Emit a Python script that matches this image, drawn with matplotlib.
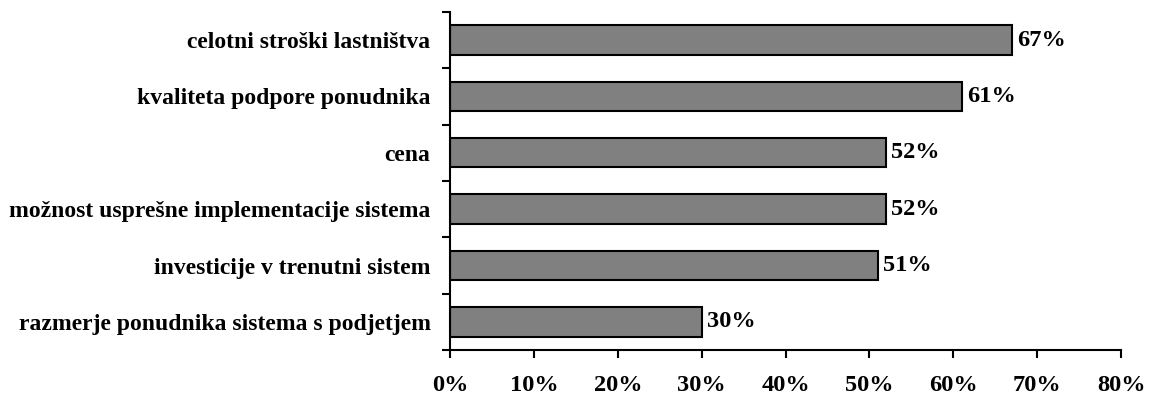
import matplotlib.pyplot as plt
from matplotlib.ticker import FixedLocator, NullFormatter

# data (bottom to top)
categories = [
    "razmerje ponudnika sistema s podjetjem",
    "investicije v trenutni sistem",
    "možnost usprešne implementacije sistema",
    "cena",
    "kvaliteta podpore ponudnika",
    "celotni stroški lastništva",
]
values = [30, 51, 52, 52, 61, 67]
xticks = [0, 10, 20, 30, 40, 50, 60, 70, 80]

plt.rcParams['font.family'] = ['Liberation Serif', 'DejaVu Serif']
plt.rcParams['font.weight'] = 'bold'
plt.rcParams['font.size'] = 17

fig = plt.figure(figsize=(11.51, 3.96), dpi=100)
ax = fig.add_axes([0.391, 0.116, 0.583, 0.854])

y = list(range(len(categories)))
bars = ax.barh(y, values, height=0.52, color='#808080', edgecolor='black', linewidth=1.5)

for b, v in zip(bars, values):
    ax.text(b.get_width() + 0.6, b.get_y() + b.get_height() / 2, f"{v}%",
            va='center', ha='left', fontweight='bold', fontsize=17.6)

ax.set_xlim(0, 80)
ax.set_ylim(-0.5, len(categories) - 0.5)
ax.set_xticks(xticks)
ax.set_xticklabels([f"{t}%" for t in xticks], fontweight='bold', fontsize=17.6)

# category labels centered on bars, ticks on boundaries
ax.set_yticks(y)
ax.set_yticklabels(categories, fontweight='bold')
ax.tick_params(axis='y', which='major', length=0, pad=14)
ax.yaxis.set_minor_locator(FixedLocator([i - 0.5 for i in range(len(categories) + 1)]))
ax.yaxis.set_minor_formatter(NullFormatter())
ax.tick_params(axis='y', which='minor', length=6, width=1.5)
ax.tick_params(axis='x', length=6, width=1.5, pad=12)

for s in ['top', 'right']:
    ax.spines[s].set_visible(False)
for s in ['left', 'bottom']:
    ax.spines[s].set_linewidth(1.5)

fig.savefig('out.png', dpi=100)
